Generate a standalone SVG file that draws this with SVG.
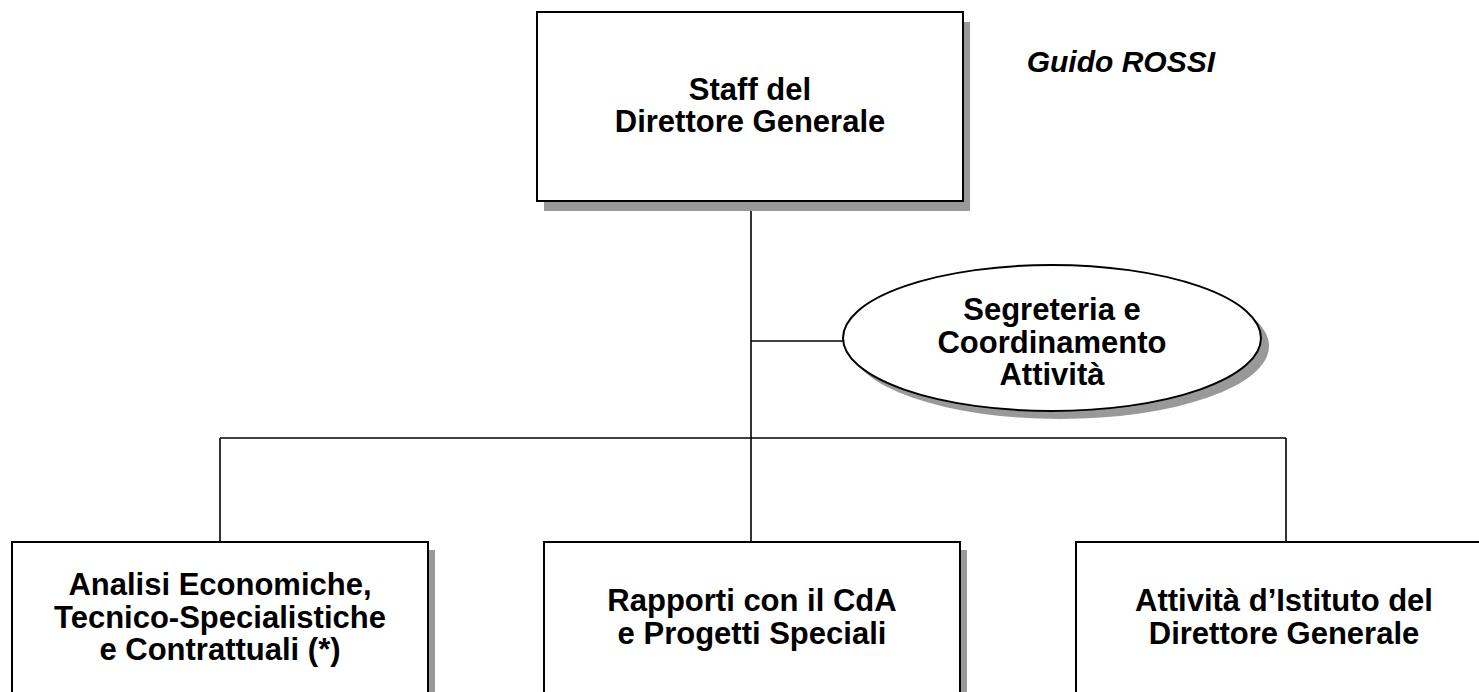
<svg xmlns="http://www.w3.org/2000/svg" width="1479" height="692" viewBox="0 0 1479 692">
<style>
.box{fill:#fff;stroke:#000;stroke-width:2}
.sh{fill:#999;stroke:none}
.t{font-family:"Liberation Sans",Arial,sans-serif;font-weight:bold;font-size:31px;fill:#000;text-anchor:middle}
.c{fill:none;stroke:#000;stroke-width:1.6}
</style>
<rect width="1479" height="692" fill="#fff"/>
<g id="connectors">
<line class="c" x1="751" y1="201" x2="751" y2="542"/>
<line class="c" x1="751" y1="341" x2="844" y2="341"/>
<line class="c" x1="220" y1="438" x2="1286" y2="438"/>
<line class="c" x1="220" y1="438" x2="220" y2="542"/>
<line class="c" x1="1286" y1="438" x2="1286" y2="542"/>
</g>
<g id="staff">
<rect class="sh" x="544" y="22" width="426" height="189"/>
<rect class="box" x="537" y="12" width="426" height="189"/>
<text class="t" x="750" y="100">Staff del</text>
<text class="t" x="750" y="132">Direttore Generale</text>
</g>
<text id="guido" x="1215" y="72" font-family="Liberation Sans,Arial,sans-serif" font-weight="bold" font-style="italic" font-size="30" text-anchor="end">Guido ROSSI</text>
<g id="segreteria">
<ellipse class="sh" cx="1060" cy="346" rx="209" ry="73"/>
<ellipse class="box" cx="1052" cy="338" rx="209" ry="73"/>
<text class="t" x="1052" y="320">Segreteria e</text>
<text class="t" x="1052" y="353">Coordinamento</text>
<text class="t" x="1052" y="385">Attività</text>
</g>
<g id="analisi">
<rect class="sh" x="19" y="550" width="416" height="160"/>
<rect class="box" x="12" y="542" width="416" height="160"/>
<text class="t" x="220" y="595">Analisi Economiche,</text>
<text class="t" x="220" y="628">Tecnico-Specialistiche</text>
<text class="t" x="220" y="660">e Contrattuali (*)</text>
</g>
<g id="rapporti">
<rect class="sh" x="551" y="550" width="416" height="160"/>
<rect class="box" x="544" y="542" width="416" height="160"/>
<text class="t" x="752" y="611">Rapporti con il CdA</text>
<text class="t" x="752" y="644">e Progetti Speciali</text>
</g>
<g id="attivita">
<rect class="sh" x="1083" y="550" width="416" height="160"/>
<rect class="box" x="1076" y="542" width="416" height="160"/>
<text class="t" x="1284" y="611">Attività d’Istituto del</text>
<text class="t" x="1284" y="644">Direttore Generale</text>
</g>
</svg>
